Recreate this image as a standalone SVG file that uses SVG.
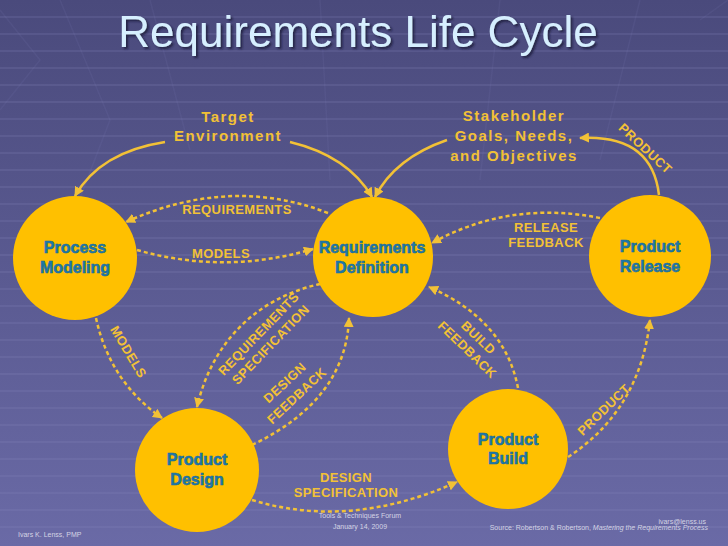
<svg xmlns="http://www.w3.org/2000/svg" width="728" height="546" viewBox="0 0 728 546">
<defs>
<linearGradient id="bg" x1="0" y1="0" x2="0" y2="1">
<stop offset="0" stop-color="#4a4a7c"/>
<stop offset="1" stop-color="#6a6aa6"/>
</linearGradient>
<marker id="ah" viewBox="0 0 10 10" refX="9" refY="5" markerWidth="4" markerHeight="4" orient="auto" markerUnits="strokeWidth">
<path d="M0,0 L10,5 L0,10 z" fill="#f2c136"/>
</marker>
<filter id="sh" x="-10%" y="-10%" width="130%" height="140%">
<feDropShadow dx="2" dy="2" stdDeviation="1" flood-color="#1e1e38" flood-opacity="0.8"/>
</filter>
</defs>
<style>
.solid{fill:none;stroke:#f2c136;stroke-width:2.5;marker-end:url(#ah)}
.dash{fill:none;stroke:#f2c136;stroke-width:2.5;stroke-dasharray:4 3;marker-end:url(#ah)}
.node{fill:#ffc000}
.nt{font-family:"Liberation Sans",Arial,sans-serif;font-weight:bold;font-size:16px;fill:#1e7aaa;stroke:#1a6a98;stroke-width:0.6;text-anchor:middle}
.lbl{font-family:"Liberation Sans",Arial,sans-serif;font-weight:bold;font-size:13px;fill:#f2c136;text-anchor:middle;letter-spacing:0.4px}
.big{font-family:"Liberation Sans",Arial,sans-serif;font-weight:bold;font-size:15px;fill:#f2c136;text-anchor:middle;letter-spacing:1.5px}
.ft{font-family:"Liberation Sans",Arial,sans-serif;font-size:7px;fill:#d4d4e4}
.grid{stroke:#8a8ac0;stroke-opacity:0.25;stroke-width:1.5}
</style>
<rect x="0" y="0" width="728" height="546" fill="url(#bg)"/>
<g class="grid">
<path d="M0,17H728M0,34H728M0,51H728M0,68H728M0,85H728M0,102H728M0,119H728M0,136H728M0,153H728M0,170H728M0,187H728M0,204H728M0,221H728M0,238H728M0,255H728M0,272H728M0,289H728M0,306H728M0,323H728M0,340H728M0,357H728M0,374H728M0,391H728M0,408H728M0,425H728M0,442H728M0,459H728M0,476H728M0,493H728M0,510H728M0,527H728"/>
<path d="M0,10L40,60L0,110M60,0L110,120L60,250M150,0L190,150M320,0L330,180M500,0L480,180M640,0L600,160M700,20L728,0" fill="none" stroke-opacity="0.1"/>
</g>
<text x="358" y="47" font-family="'Liberation Sans',Arial,sans-serif" font-size="44" fill="#d6efff" text-anchor="middle" filter="url(#sh)">Requirements Life Cycle</text>
<g id="connectors">
<path class="solid" d="M165,142 Q100,152 75,196"/>
<path class="solid" d="M290,142 Q348,156 372,197"/>
<path class="solid" d="M447,140 Q395,158 375,197"/>
<path class="solid" d="M659,195 Q652,134 580,138"/>
<path class="dash" d="M328,213 Q230,175 126,222"/>
<path class="dash" d="M137,250 Q225,275 313,249"/>
<path class="dash" d="M600,218 Q510,200 432,243"/>
<path class="dash" d="M96,318 Q110,382 162,418"/>
<path class="dash" d="M320,284 C270,295 215,330 197,407"/>
<path class="dash" d="M252,445 Q346,400 349,318"/>
<path class="dash" d="M518,388 Q505,320 429,287"/>
<path class="dash" d="M568,457 Q640,410 650,320"/>
<path class="dash" d="M252,500 Q350,530 457,482"/>
</g>
<g id="labels">
<text class="big" x="228" y="122">Target</text>
<text class="big" x="228" y="141">Environment</text>
<text class="big" x="514" y="121">Stakeholder</text>
<text class="big" x="514" y="141">Goals, Needs,</text>
<text class="big" x="514" y="161">and Objectives</text>
<text class="lbl" x="645" y="153" transform="rotate(43 645 149)">PRODUCT</text>
<text class="lbl" x="237" y="214">REQUIREMENTS</text>
<text class="lbl" x="221" y="258">MODELS</text>
<text class="lbl" x="546" y="232">RELEASE</text>
<text class="lbl" x="546" y="247">FEEDBACK</text>
<text class="lbl" x="128" y="356" transform="rotate(59 128 352)">MODELS</text>
<text class="lbl" x="259" y="338" transform="rotate(-46 259 334)">REQUIREMENTS</text>
<text class="lbl" x="271" y="349" transform="rotate(-46 271 345)">SPECIFICATION</text>
<text class="lbl" x="285" y="387" transform="rotate(-43 285 383)">DESIGN</text>
<text class="lbl" x="297" y="400" transform="rotate(-43 297 396)">FEEDBACK</text>
<text class="lbl" x="478" y="342" transform="rotate(44 478 338)">BUILD</text>
<text class="lbl" x="467" y="354" transform="rotate(44 467 350)">FEEDBACK</text>
<text class="lbl" x="604" y="414" transform="rotate(-44 604 410)">PRODUCT</text>
<text class="lbl" x="346" y="482">DESIGN</text>
<text class="lbl" x="346" y="497">SPECIFICATION</text>
</g>
<g id="process-modeling">
<circle class="node" cx="75" cy="258" r="62"/>
<text class="nt" x="75" y="253">Process</text>
<text class="nt" x="75" y="273">Modeling</text>
</g>
<g id="requirements-definition">
<circle class="node" cx="373" cy="257" r="60"/>
<text class="nt" x="372" y="253">Requirements</text>
<text class="nt" x="372" y="273">Definition</text>
</g>
<g id="product-release">
<circle class="node" cx="650" cy="256" r="61"/>
<text class="nt" x="650" y="252">Product</text>
<text class="nt" x="650" y="272">Release</text>
</g>
<g id="product-design">
<circle class="node" cx="197" cy="470" r="62"/>
<text class="nt" x="197" y="465">Product</text>
<text class="nt" x="197" y="485">Design</text>
</g>
<g id="product-build">
<circle class="node" cx="508" cy="449" r="60"/>
<text class="nt" x="508" y="445">Product</text>
<text class="nt" x="508" y="464">Build</text>
</g>
<g id="footer">
<text class="ft" x="18" y="537">Ivars K. Lenss, PMP</text>
<text class="ft" x="360" y="518" text-anchor="middle">Tools &amp; Techniques Forum</text>
<text class="ft" x="360" y="529" text-anchor="middle">January 14, 2009</text>
<text class="ft" x="706" y="524" text-anchor="end">ivars@lenss.us</text>
<text class="ft" x="708" y="530" text-anchor="end">Source: Robertson &amp; Robertson, <tspan font-style="italic">Mastering the Requirements Process</tspan></text>
</g>
</svg>
